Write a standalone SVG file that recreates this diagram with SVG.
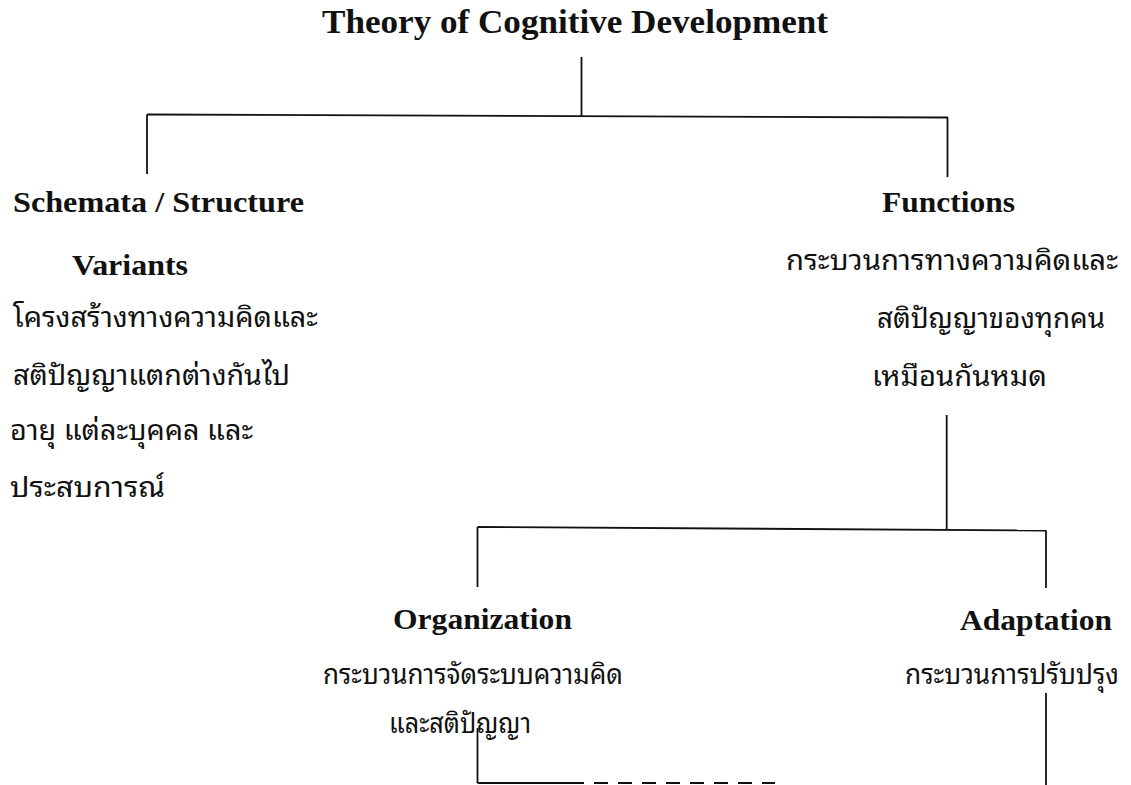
<svg xmlns="http://www.w3.org/2000/svg" width="1131" height="785" viewBox="0 0 1131 785">
<style>
.bg{fill:#ffffff}
.h{font-family:"Liberation Serif","Times New Roman",serif;font-weight:bold;fill:#111}
.th{font-family:"Noto Sans Thai Looped","Noto Serif Thai","Noto Sans Thai","Noto Sans",sans-serif;fill:#111}
.c line{stroke:#111;stroke-width:1.8;fill:none}
</style>
<rect class="bg" x="0" y="0" width="1131" height="785"/>
<g id="title">
<text class="h" x="322" y="33" font-size="34" textLength="506" lengthAdjust="spacingAndGlyphs">Theory of Cognitive Development</text>
</g>
<g id="schemata">
<text class="h" x="13" y="212" font-size="29" textLength="291" lengthAdjust="spacingAndGlyphs">Schemata / Structure</text>
<text class="h" x="72" y="275" font-size="29" textLength="116" lengthAdjust="spacingAndGlyphs">Variants</text>
<text class="th" x="13" y="327" font-size="28" textLength="305" lengthAdjust="spacingAndGlyphs">โครงสร้างทางความคิดและ</text>
<text class="th" x="13" y="385" font-size="28" textLength="277" lengthAdjust="spacingAndGlyphs">สติปัญญาแตกต่างกันไป</text>
<text class="th" x="10" y="440" font-size="28" textLength="243" lengthAdjust="spacingAndGlyphs">อายุ แต่ละบุคคล และ</text>
<text class="th" x="10" y="497" font-size="28" textLength="155" lengthAdjust="spacingAndGlyphs">ประสบการณ์</text>
</g>
<g id="functions">
<text class="h" x="882" y="212" font-size="29" textLength="133" lengthAdjust="spacingAndGlyphs">Functions</text>
<text class="th" x="786" y="270" font-size="28" textLength="332" lengthAdjust="spacingAndGlyphs">กระบวนการทางความคิดและ</text>
<text class="th" x="877" y="328" font-size="28" textLength="228" lengthAdjust="spacingAndGlyphs">สติปัญญาของทุกคน</text>
<text class="th" x="872" y="386" font-size="28" textLength="175" lengthAdjust="spacingAndGlyphs">เหมือนกันหมด</text>
</g>
<g id="organization">
<text class="h" x="393" y="629" font-size="29" textLength="179" lengthAdjust="spacingAndGlyphs">Organization</text>
<text class="th" x="323" y="684" font-size="28" textLength="300" lengthAdjust="spacingAndGlyphs">กระบวนการจัดระบบความคิด</text>
<text class="th" x="389" y="733" font-size="28" textLength="142" lengthAdjust="spacingAndGlyphs">และสติปัญญา</text>
</g>
<g id="adaptation">
<text class="h" x="960" y="630" font-size="29" textLength="152" lengthAdjust="spacingAndGlyphs">Adaptation</text>
<text class="th" x="905" y="684" font-size="28" textLength="214" lengthAdjust="spacingAndGlyphs">กระบวนการปรับปรุง</text>
</g>
<g id="connectors" class="c">
<line x1="581.5" y1="57" x2="581.5" y2="116"/>
<line x1="147" y1="114.5" x2="948" y2="117.5"/>
<line x1="147" y1="114.5" x2="147" y2="174"/>
<line x1="947.5" y1="117.5" x2="947.5" y2="177"/>
<line x1="946.7" y1="415" x2="946.7" y2="529"/>
<line x1="477.5" y1="527" x2="1046" y2="530.5"/>
<line x1="477.5" y1="527" x2="477.5" y2="587"/>
<line x1="1046" y1="530.5" x2="1046" y2="588"/>
<line x1="477.5" y1="728" x2="477.5" y2="783"/>
<line x1="477.5" y1="783" x2="570" y2="783"/>
<line x1="570" y1="783" x2="775" y2="783" stroke-dasharray="14 10"/>
<line x1="1046" y1="693" x2="1046" y2="785"/>
</g>
</svg>
